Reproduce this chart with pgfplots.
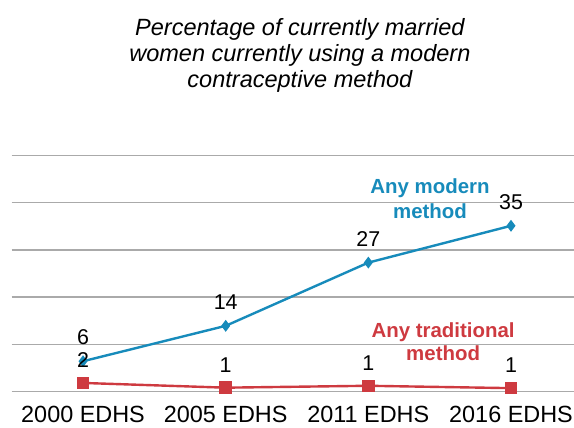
\documentclass[border=0pt]{standalone}
\usepackage{pgfplots}
\pgfplotsset{compat=1.18}
\usepackage{fontspec}
\setmainfont{Liberation Sans}

\definecolor{modblue}{RGB}{23,139,187}
\definecolor{tradred}{RGB}{206,58,64}
\definecolor{gridgray}{RGB}{170,170,170}

\begin{document}
\begin{tikzpicture}
\begin{axis}[
  scale only axis,
  width=570.7bp, height=236bp,
  xmin=-0.5, xmax=3.5,
  ymin=0, ymax=50,
  xtick={0,1,2,3},
  xticklabels={2000 EDHS,2005 EDHS,2011 EDHS,2016 EDHS},
  ytick={0,10,20,30,40,50},
  yticklabels={},
  ymajorgrids,
  grid style={gridgray, line width=1.3bp},
  axis line style={draw=none},
  major tick length=0pt,
  xticklabel style={font=\fontsize{23.5}{26}\selectfont, anchor=base, inner sep=0pt, text depth=0pt, yshift=-31bp},
  clip=false,
  point meta=explicit symbolic,
  nodes near coords,
  every node near coord/.append style={font=\fontsize{21.5}{24}\selectfont, text=black, anchor=base},
]

% any modern method
\addplot[color=modblue, line width=2.4bp, mark=diamond*, mark size=4bp,
  every node near coord/.append style={yshift=16.5bp}]
coordinates {
(0,6.4) [6]
(1,13.9) [14]
(2,27.3) [27]
(3,35.1) [35]
};

% any traditional method
\addplot[color=tradred, line width=2.4bp, mark=square*, mark size=5bp,
  every node near coord/.append style={yshift=15.5bp}]
coordinates {
(0,1.8) [2]
(1,0.8) [1]
(2,1.2) [1]
(3,0.7) [1]
};

\node[font=\fontsize{20.5}{24}\selectfont\bfseries, text=modblue, anchor=base] at (axis cs:2.432,41.9) {Any modern};
\node[font=\fontsize{20.5}{24}\selectfont\bfseries, text=modblue, anchor=base] at (axis cs:2.432,36.7) {method};
\node[font=\fontsize{20.5}{24}\selectfont\bfseries, text=tradred, anchor=base] at (axis cs:2.524,11.5) {Any traditional};
\node[font=\fontsize{20.5}{24}\selectfont\bfseries, text=tradred, anchor=base] at (axis cs:2.524,6.6) {method};

\node[font=\fontsize{23.6}{26}\selectfont\itshape, anchor=base] at (axis cs:1.52,75.5) {Percentage of currently married};
\node[font=\fontsize{23.6}{26}\selectfont\itshape, anchor=base] at (axis cs:1.52,70.0) {women currently using a modern};
\node[font=\fontsize{23.6}{26}\selectfont\itshape, anchor=base] at (axis cs:1.52,64.5) {contraceptive method};

\coordinate (bbsw) at (axis cs:-0.582,-7.733);
\coordinate (bbne) at (axis cs:3.4415,82.94);
\end{axis}
\pgfresetboundingbox
\path[use as bounding box] (bbsw) rectangle (bbne);
\end{tikzpicture}
\end{document}
